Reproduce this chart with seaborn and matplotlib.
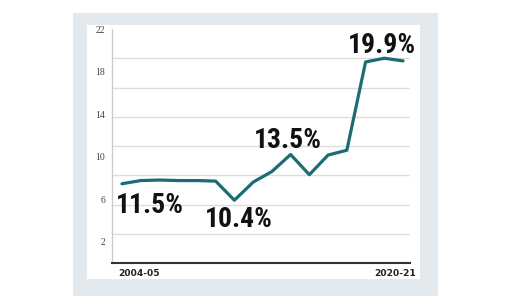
import numpy as np
import pandas as pd
import matplotlib
matplotlib.use("Agg")
import matplotlib.pyplot as plt
import seaborn as sns
from matplotlib.patches import Rectangle

# ---- data ----
periods = list(range(16))
values = [7.45, 7.75, 7.8, 7.75, 7.75, 7.7, 5.9, 7.6, 8.6, 10.2, 8.3, 10.15, 10.6, 18.9, 19.25, 19.0]
x_labels = ["2004-05", "2020-21"]
x_label_pos = [0.9, 14.55]
y_labels = ["2", "6", "10", "14", "18", "22"]
y_label_vals = [2, 6, 10, 14, 18, 22]
x_tick_pos = [0, 1, 3, 4, 6, 7, 8, 10, 11, 12, 14, 15]
annotations = ["11.5%", "10.4%", "13.5%", "19.9%"]
ann_x = [1.47, 6.25, 8.84, 13.88]
ann_y = [4.70, 3.38, 10.81, 19.74]

df = pd.DataFrame({"period": periods, "value": values})

sns.set_style("white")
W, H = 527, 306
fig = plt.figure(figsize=(W / 100, H / 100), dpi=100)
fig.patch.set_facecolor("white")

# background panels
bg = fig.add_axes([0, 0, 1, 1])
bg.set_xlim(0, W)
bg.set_ylim(H, 0)
bg.axis("off")
bg.add_patch(Rectangle((73, 13), 438 - 73, 296 - 13, facecolor="#e3e9ed", edgecolor="none"))
bg.add_patch(Rectangle((87, 25), 420 - 87, 279 - 25, facecolor="white", edgecolor="none"))
bg.set_zorder(0)

left, right, top, bottom = 112, 410, 29, 263
ax = fig.add_axes([left / W, 1 - bottom / H, (right - left) / W, (bottom - top) / H])
ax.set_facecolor("none")
ax.set_zorder(2)

sns.lineplot(data=df, x="period", y="value", ax=ax, color="#1b6c73", linewidth=2.3, zorder=3)

ax.set_xlim(-0.53, 15.37)
ax.set_ylim(0, 22)

# grid on minor (8 divisions)
ax.set_yticks(np.linspace(0, 22, 9), minor=True)
ax.set_yticks(y_label_vals)
ax.set_yticklabels(y_labels, fontsize=7, color="#444444", family="Liberation Serif")
ax.tick_params(axis="y", which="major", length=0, pad=5)
ax.tick_params(axis="y", which="minor", length=3, width=0.8, color="#555555", direction="out")
ax.grid(False)
ax.yaxis.grid(True, which="minor", color="#dddddd", linewidth=1)

ax.set_xticks(x_tick_pos)
ax.set_xticklabels([""] * len(x_tick_pos))
ax.tick_params(axis="x", which="major", length=4, width=1, color="#333333", direction="inout")
ax.set_xticks(x_label_pos, minor=True)
ax.set_xticklabels(x_labels, minor=True, fontsize=6.6, fontweight="bold", color="#222222")
ax.tick_params(axis="x", which="minor", length=0, pad=4)

ax.set_xlabel("")
ax.set_ylabel("")
for s in ["top", "right"]:
    ax.spines[s].set_visible(False)
ax.spines["left"].set_color("#cccccc")
ax.spines["left"].set_linewidth(1)
ax.spines["bottom"].set_color("#333333")
ax.spines["bottom"].set_linewidth(1.5)

for t, x, y in zip(annotations, ann_x, ann_y):
    ax.text(x, y, t, ha="center", va="baseline", fontsize=20, fontweight="bold",
            family=["Roboto Condensed", "DejaVu Sans"], color="#111111", zorder=4)

fig.savefig("out.png", dpi=100)
